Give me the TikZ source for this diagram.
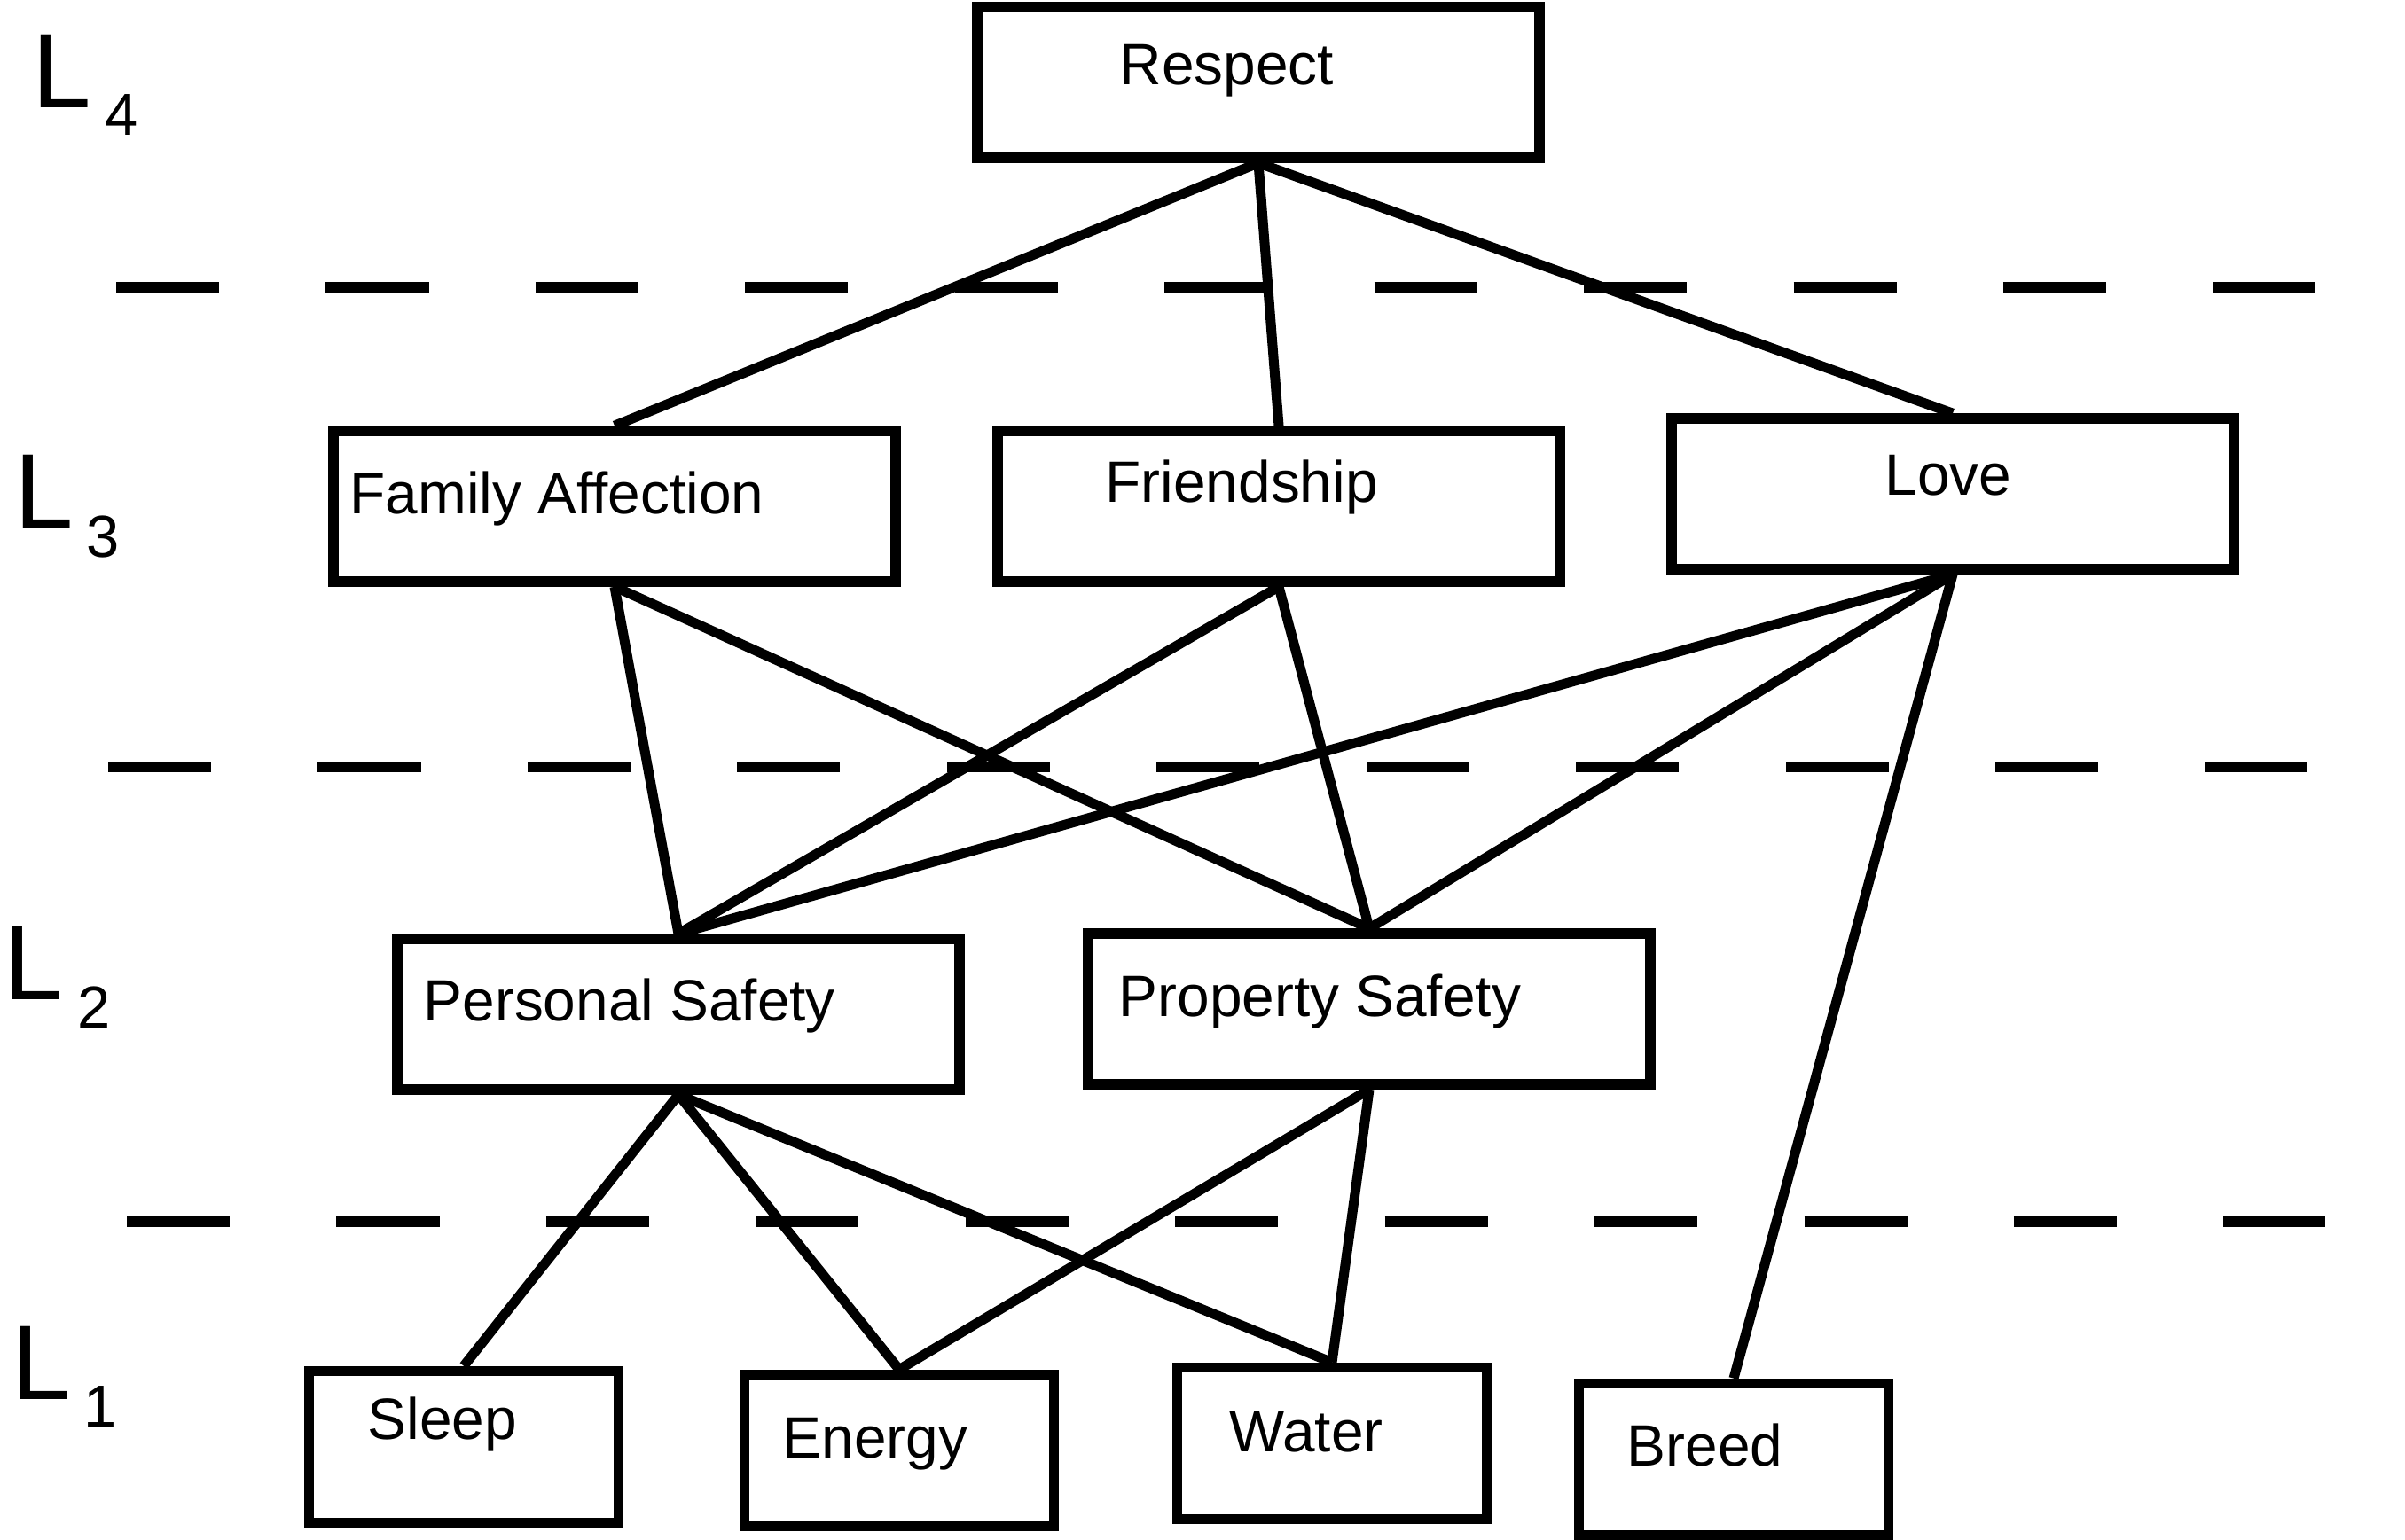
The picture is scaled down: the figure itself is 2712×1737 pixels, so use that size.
\documentclass[tikz,border=0pt]{standalone}
\usepackage{fontspec}
\setmainfont{Liberation Sans}
\begin{document}
\begin{tikzpicture}[x=0.01cm,y=-0.01cm,
  bigbox/.style={draw, line width=0.115cm, inner sep=0pt, minimum width=6.34cm, minimum height=1.70cm},
  smallbox/.style={draw, line width=0.115cm, inner sep=0pt, minimum width=3.49cm, minimum height=1.71cm},
  txt/.style={anchor=base west, inner sep=0pt, font=\fontsize{18.7}{22}\selectfont},
  bigL/.style={anchor=base west, inner sep=0pt, font=\fontsize{34}{40}\selectfont},
  sub/.style={anchor=base west, inner sep=0pt, font=\fontsize{19}{22}\selectfont},
  link/.style={line width=0.11cm},
  sep/.style={line width=0.115cm, dash pattern=on 1.16cm off 1.203cm}]
\useasboundingbox (0,0) rectangle (2712,1737);

% level separators
\coordinate (d1a) at (131,324);  \coordinate (d1b) at (2610,324);
\coordinate (d2a) at (122,865);  \coordinate (d2b) at (2604,865);
\coordinate (d3a) at (143,1378); \coordinate (d3b) at (2622,1378);
\draw[sep] (d1a) -- (d1b);
\draw[sep] (d2a) -- (d2b);
\draw[sep] (d3a) -- (d3b);

% boxes
\node[bigbox] (respect) at (1419,93) {};
\node[bigbox] (family) at (693,571) {};
\node[bigbox] (friend) at (1442,571) {};
\node[bigbox] (love) at (2202,557) {};
\node[bigbox] (personal) at (765,1144) {};
\node[bigbox] (property) at (1544,1138) {};
\node[smallbox] (sleep) at (523,1632) {};
\node[smallbox] (energy) at (1014,1636) {};
\node[smallbox] (water) at (1502,1628) {};
\node[smallbox] (breed) at (1955,1646) {};

% texts
\node[txt] (trespect) at (1262,96) {Respect};
\node[txt] (tfamily) at (394,580) {Family Affection};
\node[txt] (tfriend) at (1246,567) {Friendship};
\node[txt] (tlove) at (2125,559) {Love};
\node[txt] (tpersonal) at (477,1151) {Personal Safety};
\node[txt] (tproperty) at (1261,1146) {Property Safety};
\node[txt] (tsleep) at (414,1623) {Sleep};
\node[txt] (tenergy) at (882,1644) {Energy};
\node[txt] (twater) at (1386,1637) {Water};
\node[txt] (tbreed) at (1834,1653) {Breed};

% level labels
\node[bigL] (L4) at (36,122) {L};   \node[sub] (s4) at (118,153) {4};
\node[bigL] (L3) at (16,596) {L};   \node[sub] (s3) at (97,629) {3};
\node[bigL] (L2) at (4,1127) {L};   \node[sub] (s2) at (87,1159) {2};
\node[bigL] (L1) at (13,1578) {L};  \node[sub] (s1) at (94,1609) {1};

% connectors
\draw[link] (respect.south) -- (family.north);
\draw[link] (respect.south) -- (friend.north);
\draw[link] (respect.south) -- (love.north);
\draw[link] (family.south) -- (personal.north);
\draw[link] (family.south) -- (property.north);
\draw[link] (friend.south) -- (personal.north);
\draw[link] (friend.south) -- (property.north);
\draw[link] (love.south) -- (personal.north);
\draw[link] (love.south) -- (property.north);
\draw[link] (love.south) -- (breed.north);
\draw[link] (personal.south) -- (sleep.north);
\draw[link] (personal.south) -- (energy.north);
\draw[link] (personal.south) -- (water.north);
\draw[link] (property.south) -- (energy.north);
\draw[link] (property.south) -- (water.north);
\end{tikzpicture}
\end{document}
